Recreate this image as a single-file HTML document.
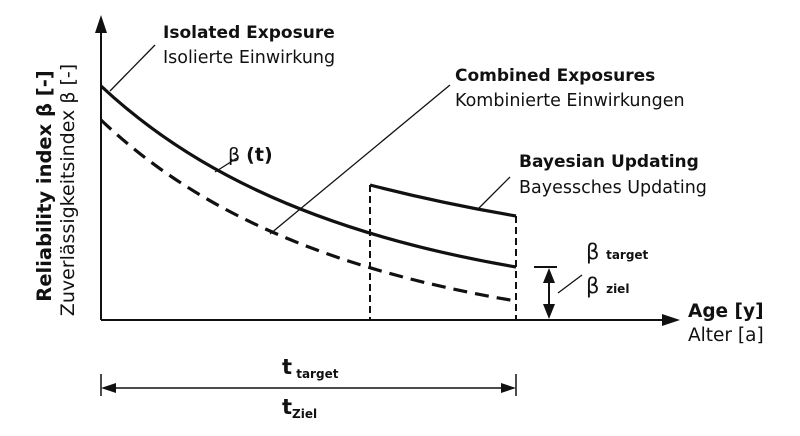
<!DOCTYPE html>
<html><head><meta charset="utf-8"><style>
body{margin:0;background:#fff;}
svg text{font-family:"DejaVu Sans","Liberation Sans",sans-serif;fill:#111;}
</style></head><body>
<svg width="800" height="431" viewBox="0 0 800 431" xmlns="http://www.w3.org/2000/svg">
<g stroke="#111" fill="none">
<line x1="101" y1="30" x2="101" y2="320" stroke-width="2"/>
<line x1="101" y1="320" x2="665" y2="320" stroke-width="2"/>
<path d="M101,86 C180,160 300,230 516,267" stroke-width="3.2"/>
<path d="M101,120 C180,195 300,265 516,301" stroke-width="3.2" stroke-dasharray="14,8"/>
<path d="M370,185 Q440,203 516,216" stroke-width="3.2"/>
<line x1="370" y1="185" x2="370" y2="320" stroke-width="2" stroke-dasharray="7,4"/>
<line x1="516" y1="216" x2="516" y2="320" stroke-width="2" stroke-dasharray="7,4"/>
<line x1="110" y1="91" x2="155" y2="45" stroke-width="1.3"/>
<line x1="215" y1="172" x2="237" y2="158" stroke-width="1.3"/>
<line x1="270" y1="234" x2="450" y2="85" stroke-width="1.3"/>
<line x1="477" y1="210" x2="510" y2="177" stroke-width="1.3"/>
<line x1="558" y1="293" x2="582" y2="275" stroke-width="1.3"/>
<line x1="534" y1="267" x2="557" y2="267" stroke-width="2"/>
<line x1="549" y1="280" x2="549" y2="308" stroke-width="2"/>
<line x1="101" y1="374" x2="101" y2="396" stroke-width="1.5"/>
<line x1="516" y1="374" x2="516" y2="396" stroke-width="1.5"/>
<line x1="112" y1="388" x2="505" y2="388" stroke-width="1.5"/>
</g>
<g fill="#111">
<polygon points="101,15 95,33 107,33"/>
<polygon points="680,320 662,314 662,326"/>
<polygon points="549,268 543,283 555,283"/>
<polygon points="549,319 543,304 555,304"/>
<polygon points="101,388 116,383 116,393"/>
<polygon points="516,388 501,383 501,393"/>
</g>
<text x="163" y="38" font-size="17" font-weight="bold">Isolated Exposure</text>
<text x="163" y="63" font-size="17.5">Isolierte Einwirkung</text>
<text x="455" y="81" font-size="17" font-weight="bold">Combined Exposures</text>
<text x="455" y="106" font-size="17.5">Kombinierte Einwirkungen</text>
<text x="519" y="167" font-size="17" font-weight="bold">Bayesian Updating</text>
<text x="519" y="193" font-size="17.5">Bayessches Updating</text>
<text x="228" y="161" font-size="19">β <tspan font-weight="bold">(t)</tspan></text>
<text x="586" y="259" font-size="21">β <tspan font-size="12" font-weight="bold">target</tspan></text>
<text x="586" y="293" font-size="21">β <tspan font-size="12" font-weight="bold">ziel</tspan></text>
<text x="688" y="317" font-size="18.5" font-weight="bold">Age [y]</text>
<text x="688" y="341" font-size="18.5">Alter [a]</text>
<text x="282" y="374" font-size="21" font-weight="bold">t<tspan font-size="12" dy="4"> target</tspan></text>
<text x="282" y="414" font-size="21" font-weight="bold">t<tspan font-size="12" dy="4">Ziel</tspan></text>
<text transform="translate(51,186) rotate(-90)" text-anchor="middle" font-size="19.5" font-weight="bold">Reliability index β [-]</text>
<text transform="translate(74,190) rotate(-90)" text-anchor="middle" font-size="19">Zuverlässigkeitsindex β [-]</text>
</svg>
</body></html>
